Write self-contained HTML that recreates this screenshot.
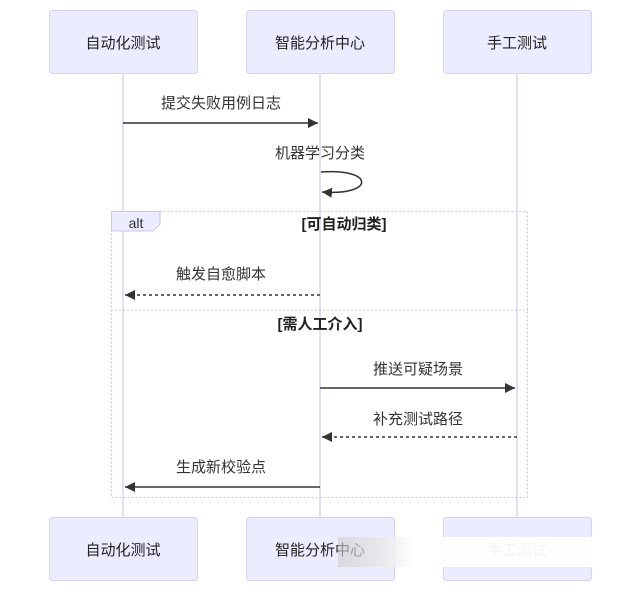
<!DOCTYPE html>
<html><head><meta charset="utf-8"><style>
html,body{margin:0;padding:0;background:#fff;}
svg{display:block;font-family:"Liberation Sans","Noto Sans CJK SC",sans-serif;}
</style></head><body>
<svg width="640" height="592" viewBox="0 0 640 592">
<defs>
<marker id="ar" markerWidth="12" markerHeight="12" refX="10" refY="5" orient="auto" markerUnits="userSpaceOnUse"><path d="M0,0 L10,5 L0,10 z" fill="#333"/></marker>
<linearGradient id="wm" x1="0" x2="1" y1="0" y2="0"><stop offset="0" stop-color="#ccc" stop-opacity="0.6"/><stop offset="0.3" stop-color="#fff" stop-opacity="0.95"/><stop offset="1" stop-color="#fff" stop-opacity="0.95"/></linearGradient>
</defs>
<g stroke="#d8d4f0" stroke-width="1.5">
<line x1="123" y1="73" x2="123" y2="517"/>
<line x1="320" y1="73" x2="320" y2="517"/>
<line x1="517" y1="73" x2="517" y2="517"/>
</g>
<g fill="#ececff" stroke="#d6d2f2" stroke-width="1">
<rect x="49.5" y="10.5" width="148" height="63" rx="3"/>
<rect x="246.5" y="10.5" width="148" height="63" rx="3"/>
<rect x="443.5" y="10.5" width="148" height="63" rx="3"/>
<rect x="49.5" y="517.5" width="148" height="63" rx="3"/>
<rect x="246.5" y="517.5" width="148" height="63" rx="3"/>
<rect x="443.5" y="517.5" width="148" height="63" rx="3"/>
</g>
<g font-size="15" fill="#222" text-anchor="middle">
<text x="123" y="48">自动化测试</text>
<text x="320" y="48">智能分析中心</text>
<text x="517" y="48">手工测试</text>
<text x="123" y="555">自动化测试</text>
<text x="320" y="555">智能分析中心</text>
<text x="517" y="555">手工测试</text>
</g>
<rect x="338" y="537" width="257" height="30" fill="url(#wm)"/>
<rect x="111.5" y="211.5" width="416" height="286" fill="none" stroke="#c9c5ea" stroke-dasharray="2,2"/>
<line x1="111" y1="310" x2="528" y2="310" stroke="#c9c5ea" stroke-dasharray="2,2"/>
<path d="M111.5,211.5 H160 V224 L153,231 H111.5 z" fill="#ececff" stroke="#c9c5ea"/>
<g font-size="15" fill="#333" text-anchor="middle">
<text x="136" y="228" font-size="14" font-family="Liberation Sans,sans-serif">alt</text>
<text x="344" y="229" fill="#222" font-weight="bold">[可自动归类]</text>
<text x="320" y="329" fill="#222" font-weight="bold">[需人工介入]</text>
<text x="221" y="108">提交失败用例日志</text>
<text x="320" y="158">机器学习分类</text>
<text x="221" y="279">触发自愈脚本</text>
<text x="418" y="374">推送可疑场景</text>
<text x="418" y="424">补充测试路径</text>
<text x="221" y="472">生成新校验点</text>
</g>
<g stroke="#333" stroke-width="1.5" fill="none">
<line x1="123" y1="123" x2="318" y2="123" marker-end="url(#ar)"/>
<path d="M321,172 C375,168 375,196 322,192" marker-end="url(#ar)"/>
<line x1="320" y1="295" x2="125" y2="295" stroke-dasharray="3,3" marker-end="url(#ar)"/>
<line x1="320" y1="388" x2="515" y2="388" marker-end="url(#ar)"/>
<line x1="517" y1="437" x2="322" y2="437" stroke-dasharray="3,3" marker-end="url(#ar)"/>
<line x1="320" y1="487" x2="125" y2="487" marker-end="url(#ar)"/>
</g>
</svg>
</body></html>
